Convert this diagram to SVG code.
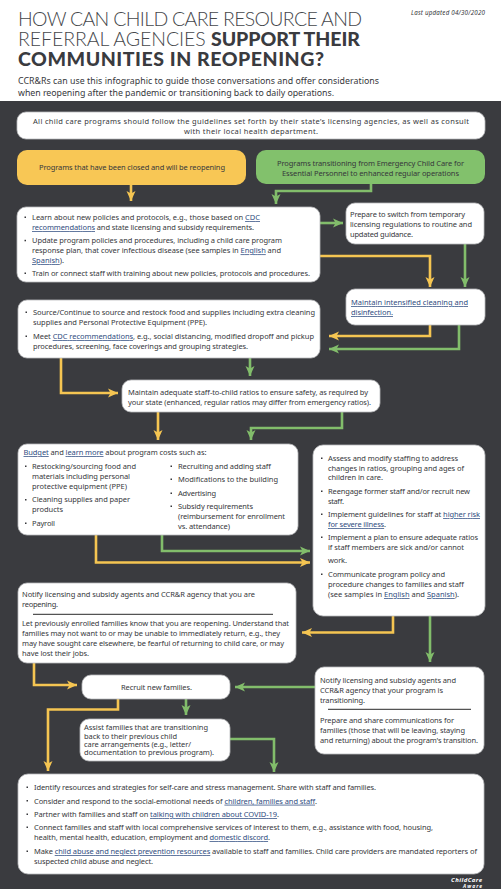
<svg xmlns="http://www.w3.org/2000/svg" width="501" height="889" viewBox="0 0 501 889">
<style>
text{font-family:"Noto Sans","Open Sans","Liberation Sans",sans-serif;font-size:7.5px;fill:#36373b}
.h{font-family:Lato,"Noto Sans",sans-serif;font-size:19.5px}
.l{font-weight:300;fill:#45474b}
.b{font-weight:900;fill:#3a3b3f}
.s{font-size:8.8px}
.a{fill:#2f4c80;text-decoration:underline}
.box{fill:#fff;stroke:#b9babc;stroke-width:.8}
.c{fill:none;stroke-width:2.6}
.o{stroke:#f5c552}
.g{stroke:#82bd6b}
.d{fill:#36373b}
.r{stroke:#111;stroke-width:.9}
.w{fill:#fff;font-weight:700;font-style:italic;font-size:6px}
</style>
<defs>
<marker id="ao" markerUnits="userSpaceOnUse" markerWidth="11" markerHeight="10" refX="10" refY="5" orient="auto"><path d="M0 0.5L10 5L0 9.5L2.500 5Z" fill="#f5c552"/></marker>
<marker id="ag" markerUnits="userSpaceOnUse" markerWidth="11" markerHeight="10" refX="10" refY="5" orient="auto"><path d="M0 0.5L10 5L0 9.5L2.500 5Z" fill="#82bd6b"/></marker>
</defs>
<rect width="501" height="889" fill="#fff"/>
<rect y="101" width="501" height="788" fill="#3a3b3f"/>
<g id="header">
<text class="h l" x="18" y="25.500" textLength="344">HOW CAN CHILD CARE RESOURCE AND</text>
<text class="h" x="18" y="46" textLength="342"><tspan class="l">REFERRAL AGENCIES </tspan><tspan class="b">SUPPORT THEIR</tspan></text>
<text class="h b" x="18" y="66" textLength="306">COMMUNITIES IN REOPENING?</text>
<text class="s" x="18" y="83.500" textLength="361">CCR&amp;Rs can use this infographic to guide those conversations and offer considerations</text>
<text class="s" x="18" y="95.500" textLength="316">when reopening after the pandemic or transitioning back to daily operations.</text>
<text x="411" y="15" textLength="74" font-style="italic" style="font-size:6.2px">Last updated 04/30/2020</text>
</g>
<g id="connectors">
<path class="c o" marker-end="url(#ao)" d="M131 185V201"/>
<path class="c g" marker-end="url(#ag)" d="M371 184V191H276V204"/>
<path class="c g" marker-end="url(#ag)" d="M320 223H343"/>
<path class="c o" marker-end="url(#ao)" d="M320 256H430V287"/>
<path class="c g" marker-end="url(#ag)" d="M465 244V287"/>
<path class="c o" marker-end="url(#ao)" d="M430 325V336H329"/>
<path class="c g" marker-end="url(#ag)" d="M459 325V349H329"/>
<path class="c o" marker-end="url(#ao)" d="M61 358V393H118"/>
<path class="c g" marker-end="url(#ag)" d="M250 358V376"/>
<path class="c o" marker-end="url(#ao)" d="M158 412V440"/>
<path class="c g" marker-end="url(#ag)" d="M342 412V428H251V440"/>
<path class="c g" marker-end="url(#ag)" d="M162 535V551H310"/>
<path class="c o" marker-end="url(#ao)" d="M96 535V562.500H310"/>
<path class="c o" marker-end="url(#ao)" d="M393 616V632.500H302"/>
<path class="c g" marker-end="url(#ag)" d="M430 616V662"/>
<path class="c o" marker-end="url(#ao)" d="M34 663V685H77"/>
<path class="c g" marker-end="url(#ag)" d="M315 687H235"/>
<path class="c o" marker-end="url(#ao)" d="M118 699V709.500H48V771"/>
<path class="c g" marker-end="url(#ag)" d="M186 699V715"/>
<path class="c g" marker-end="url(#ag)" d="M230 739H274V772"/>
</g>
<g id="intro"><rect class="box" x="17" y="112" width="468" height="27" rx="9"/>
<text x="33" y="124" textLength="436">All child care programs should follow the guidelines set forth by their state’s licensing agencies, as well as consult</text>
<text x="184" y="134" textLength="134">with their local health department.</text></g>
<g id="closed"><rect x="17" y="150" width="229" height="35" rx="10" fill="#f8c755"/>
<text x="39" y="170" textLength="186">Programs that have been closed and will be reopening</text></g>
<g id="transitioning"><rect x="256" y="150" width="229" height="34" rx="10" fill="#82c16c"/>
<text x="277" y="165.500" textLength="187">Programs transitioning from Emergency Child Care for</text>
<text x="282" y="175.500" textLength="177">Essential Personnel to enhanced regular operations</text></g>
<g id="learn"><rect class="box" x="17" y="207" width="303" height="75" rx="9"/>
<rect class="d" x="24.500" y="216.500" width="1.500" height="1.500"/><rect class="d" x="24.500" y="239.800" width="1.500" height="1.500"/><rect class="d" x="24.500" y="272.500" width="1.500" height="1.500"/>
<text x="32" y="220" textLength="228">Learn about new policies and protocols, e.g., those based on <tspan class="a">CDC</tspan></text>
<text x="32" y="230" textLength="222"><tspan class="a">recommendations</tspan> and state licensing and subsidy requirements.</text>
<text x="32" y="243.300" textLength="250">Update program policies and procedures, including a child care program</text>
<text x="32" y="253.300" textLength="249">response plan, that cover infectious disease (see samples in <tspan class="a">English</tspan> and</text>
<text x="32" y="263" textLength="32"><tspan class="a">Spanish</tspan>).</text>
<text x="32" y="276" textLength="278">Train or connect staff with training about new policies, protocols and procedures.</text></g>
<g id="prepare"><rect class="box" x="346" y="203" width="138" height="41" rx="9"/>
<text x="350" y="217" textLength="115">Prepare to switch from temporary</text>
<text x="350" y="227" textLength="122">licensing regulations to routine and</text>
<text x="350" y="237" textLength="63">updated guidance.</text></g>
<g id="cleaning"><rect class="box" x="346" y="289" width="139" height="36" rx="9"/>
<text class="a" x="351" y="305" textLength="117">Maintain intensified cleaning and</text>
<text class="a" x="351" y="315" textLength="42">disinfection.</text></g>
<g id="source"><rect class="box" x="18" y="300" width="302" height="58" rx="9"/>
<rect class="d" x="25.500" y="311.500" width="1.500" height="1.500"/><rect class="d" x="25.500" y="335.500" width="1.500" height="1.500"/>
<text x="33" y="315" textLength="282">Source/Continue to source and restock food and supplies including extra cleaning</text>
<text x="33" y="325" textLength="174">supplies and Personal Protective Equipment (PPE).</text>
<text x="33" y="339" textLength="281">Meet <tspan class="a">CDC recommendations</tspan>, e.g., social distancing, modified dropoff and pickup</text>
<text x="33" y="349" textLength="215">procedures, screening, face coverings and grouping strategies.</text></g>
<g id="ratios"><rect class="box" x="122" y="380" width="258" height="32" rx="9"/>
<text x="128" y="395" textLength="240">Maintain adequate staff-to-child ratios to ensure safety, as required by</text>
<text x="128" y="405" textLength="243">your state (enhanced, regular ratios may differ from emergency ratios).</text></g>
<g id="budget"><rect class="box" x="18" y="444" width="280" height="91" rx="9"/>
<text x="23.500" y="455" textLength="183"><tspan class="a">Budget</tspan> and <tspan class="a">learn more</tspan> about program costs such as:</text>
<rect class="d" x="25" y="465.500" width="1.500" height="1.500"/><rect class="d" x="25" y="499" width="1.500" height="1.500"/><rect class="d" x="25" y="522.500" width="1.500" height="1.500"/>
<rect class="d" x="170.500" y="465.500" width="1.500" height="1.500"/><rect class="d" x="170.500" y="478.500" width="1.500" height="1.500"/><rect class="d" x="170.500" y="492.500" width="1.500" height="1.500"/><rect class="d" x="170.500" y="505.500" width="1.500" height="1.500"/>
<text x="32" y="468.700" textLength="104">Restocking/sourcing food and</text>
<text x="32" y="478.700" textLength="98">materials including personal</text>
<text x="32" y="488.700" textLength="95">protective equipment (PPE)</text>
<text x="32" y="502" textLength="98">Cleaning supplies and paper</text>
<text x="32" y="512" textLength="31">products</text>
<text x="32" y="526" textLength="23">Payroll</text>
<text x="178" y="468.700" textLength="93">Recruiting and adding staff</text>
<text x="178" y="482" textLength="100">Modifications to the building</text>
<text x="178" y="496" textLength="38">Advertising</text>
<text x="178" y="509" textLength="75">Subsidy requirements</text>
<text x="178" y="519" textLength="107">(reimbursement for enrollment</text>
<text x="178" y="529" textLength="52">vs. attendance)</text></g>
<g id="staffing"><rect class="box" x="313" y="445" width="172" height="171" rx="10"/>
<rect class="d" x="321" y="457.500" width="1.500" height="1.500"/><rect class="d" x="321" y="490.500" width="1.500" height="1.500"/><rect class="d" x="321" y="513.500" width="1.500" height="1.500"/><rect class="d" x="321" y="536.500" width="1.500" height="1.500"/><rect class="d" x="321" y="573.500" width="1.500" height="1.500"/>
<text x="328" y="461" textLength="130">Assess and modify staffing to address</text>
<text x="328" y="470.500" textLength="136">changes in ratios, grouping and ages of</text>
<text x="328" y="480" textLength="55">children in care.</text>
<text x="328" y="494" textLength="142">Reengage former staff and/or recruit new</text>
<text x="328" y="504" textLength="16">staff.</text>
<text x="328" y="517" textLength="152">Implement guidelines for staff at <tspan class="a">higher risk</tspan></text>
<text x="328" y="527" textLength="58"><tspan class="a">for severe illness</tspan>.</text>
<text x="328" y="540" textLength="150">Implement a plan to ensure adequate ratios</text>
<text x="328" y="550" textLength="136">if staff members are sick and/or cannot</text>
<text x="328" y="563" textLength="19">work.</text>
<text x="328" y="577" textLength="117">Communicate program policy and</text>
<text x="328" y="587" textLength="136">procedure changes to families and staff</text>
<text x="328" y="597" textLength="131">(see samples in <tspan class="a">English</tspan> and <tspan class="a">Spanish</tspan>).</text></g>
<g id="notify-reopening"><rect class="box" x="18" y="583" width="278" height="80" rx="9"/>
<text x="22" y="597" textLength="233">Notify licensing and subsidy agents and CCR&amp;R agency that you are</text>
<text x="22" y="607" textLength="36">reopening.</text>
<line class="r" x1="33" y1="614.300" x2="273" y2="614.300"/>
<text x="22" y="626" textLength="267">Let previously enrolled families know that you are reopening. Understand that</text>
<text x="22" y="636" textLength="258">families may not want to or may be unable to immediately return, e.g., they</text>
<text x="22" y="646" textLength="262">may have sought care elsewhere, be fearful of returning to child care, or may</text>
<text x="22" y="656" textLength="67">have lost their jobs.</text></g>
<g id="recruit"><rect class="box" x="82" y="675" width="148" height="24" rx="9"/>
<text x="121" y="690" textLength="71">Recruit new families.</text></g>
<g id="assist"><rect class="box" x="80" y="719" width="150" height="42" rx="9"/>
<text x="84" y="730" textLength="124">Assist families that are transitioning</text>
<text x="84" y="739" textLength="93">back to their previous child</text>
<text x="84" y="747" textLength="107">care arrangements (e.g., letter/</text>
<text x="84" y="755" textLength="130">documentation to previous program).</text></g>
<g id="notify-transitioning"><rect class="box" x="315" y="667" width="169" height="87" rx="9"/>
<text x="320" y="683" textLength="136">Notify licensing and subsidy agents and</text>
<text x="320" y="693" textLength="123">CCR&amp;R agency that your program is</text>
<text x="320" y="703" textLength="45">transitioning.</text>
<line class="r" x1="328" y1="709.300" x2="471" y2="709.300"/>
<text x="320" y="723" textLength="134">Prepare and share communications for</text>
<text x="320" y="733" textLength="145">families (those that will be leaving, staying</text>
<text x="320" y="743" textLength="158">and returning) about the program's transition.</text></g>
<g id="resources"><rect class="box" x="18" y="774" width="466" height="100" rx="10"/>
<rect class="d" x="26.500" y="786.500" width="1.500" height="1.500"/><rect class="d" x="26.500" y="800" width="1.500" height="1.500"/><rect class="d" x="26.500" y="813.500" width="1.500" height="1.500"/><rect class="d" x="26.500" y="826.500" width="1.500" height="1.500"/><rect class="d" x="26.500" y="850.500" width="1.500" height="1.500"/>
<text x="34" y="790" textLength="342">Identify resources and strategies for self-care and stress management. Share with staff and families.</text>
<text x="34" y="803.700" textLength="283">Consider and respond to the social-emotional needs of <tspan class="a">children, families and staff</tspan>.</text>
<text x="34" y="817" textLength="245">Partner with families and staff on <tspan class="a">talking with children about COVID-19</tspan>.</text>
<text x="34" y="830" textLength="399">Connect families and staff with local comprehensive services of interest to them, e.g., assistance with food, housing,</text>
<text x="34" y="840" textLength="236">health, mental health, education, employment and <tspan class="a">domestic discord</tspan>.</text>
<text x="34" y="854" textLength="443">Make <tspan class="a">child abuse and neglect prevention resources</tspan> available to staff and families. Child care providers are mandated reporters of</text>
<text x="34" y="864" textLength="119">suspected child abuse and neglect.</text></g>
<g id="logo">
<text class="w" x="451" y="882" textLength="31">ChildCare</text>
<text class="w" x="463" y="888" textLength="19" style="font-size:5px">Aware</text>
</g>
</svg>
